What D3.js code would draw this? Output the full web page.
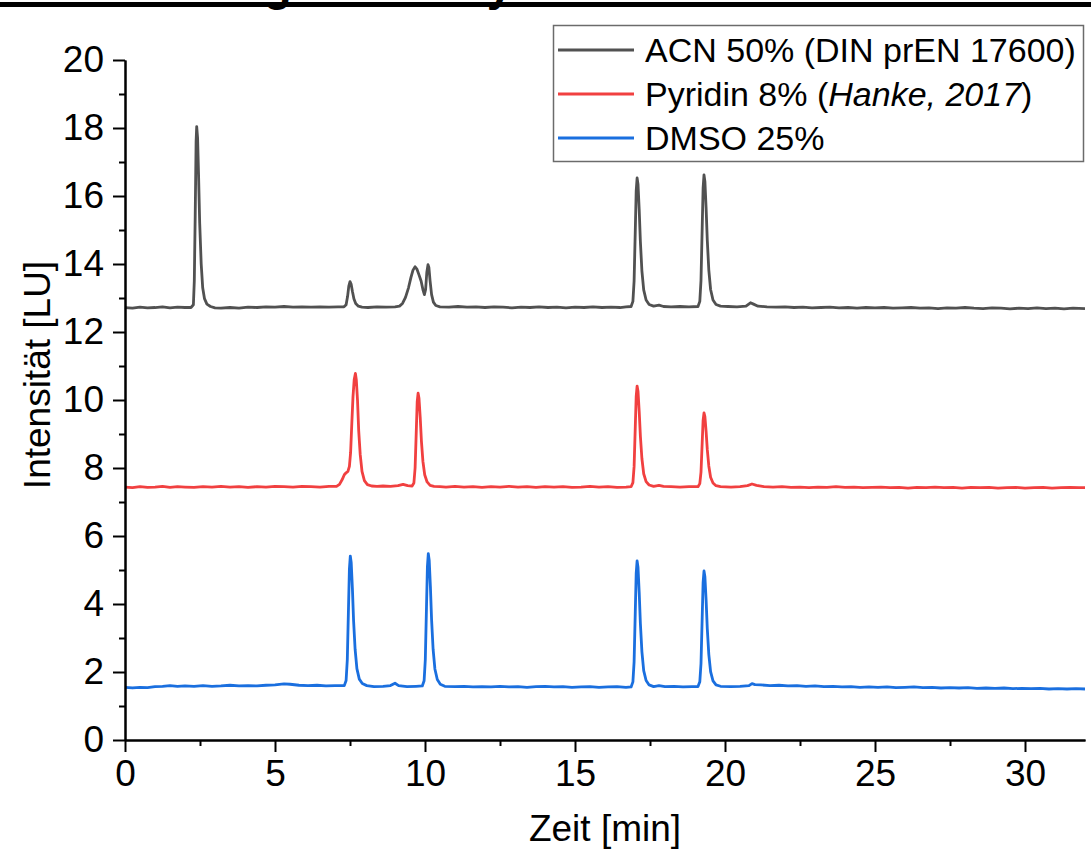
<!DOCTYPE html>
<html>
<head>
<meta charset="utf-8">
<script src="https://cdn.jsdelivr.net/npm/d3@7"></script>
<style>
  html, body { margin: 0; padding: 0; background: #fff; }
  svg { display: block; font-family: "Liberation Sans", Arial, sans-serif; }
</style>
</head>
<body>
<svg id="chart" width="1091" height="855"></svg>
<script>
// Retention time [min] / fluorescence intensity [LU] for each eluent
const acnSignal = [
  [0.00,12.72],[0.25,12.70],[0.50,12.73],[0.75,12.71],[1.00,12.72],[1.25,12.74],[1.50,12.71],[1.75,12.73],[2.00,12.72],[2.20,12.72],
  [2.28,12.80],[2.31,13.50],[2.34,15.40],[2.37,17.60],[2.39,18.04],[2.42,17.70],[2.45,16.70],[2.49,15.20],[2.54,14.00],[2.59,13.30],[2.65,12.98],[2.73,12.82],[2.85,12.75],[3.00,12.71],
  [3.20,12.70],[3.50,12.72],[3.80,12.70],[4.10,12.73],[4.40,12.72],[4.70,12.74],[5.00,12.73],[5.30,12.75],[5.60,12.73],[5.90,12.74],[6.20,12.73],[6.50,12.74],[6.80,12.73],[7.10,12.74],[7.30,12.74],
  [7.37,12.80],[7.42,13.05],[7.46,13.35],[7.50,13.48],[7.54,13.40],[7.58,13.20],[7.63,12.98],[7.69,12.84],[7.78,12.76],[7.90,12.73],
  [8.10,12.72],[8.40,12.74],[8.70,12.73],[9.00,12.74],[9.15,12.76],
  [9.25,12.84],[9.35,13.02],[9.45,13.30],[9.53,13.60],[9.60,13.82],[9.67,13.92],[9.73,13.85],[9.80,13.68],[9.87,13.50],[9.93,13.25],[9.98,13.10],
  [10.02,13.25],[10.06,13.75],[10.10,13.98],[10.13,13.90],[10.17,13.50],[10.22,13.10],[10.28,12.88],[10.36,12.78],[10.50,12.74],
  [10.80,12.73],[11.10,12.75],[11.40,12.73],[11.70,12.74],[12.00,12.72],[12.30,12.74],[12.60,12.73],[12.90,12.71],[13.20,12.73],[13.50,12.72],[13.80,12.74],[14.10,12.72],
  [14.40,12.73],[14.70,12.71],[15.00,12.73],[15.30,12.72],[15.60,12.74],[15.90,12.72],[16.20,12.73],[16.50,12.72],[16.70,12.74],[16.87,12.75],
  [16.93,12.90],[16.97,13.50],[17.01,15.00],[17.04,16.15],[17.07,16.53],[17.10,16.35],[17.14,15.60],[17.18,14.65],[17.23,13.80],[17.29,13.24],[17.37,12.94],[17.47,12.81],[17.62,12.76],
  [17.80,12.79],[17.95,12.75],[18.20,12.74],[18.50,12.75],[18.80,12.74],[19.10,12.75],
  [19.16,12.90],[19.20,13.52],[19.24,15.07],[19.27,16.23],[19.30,16.62],[19.33,16.43],[19.37,15.65],[19.41,14.69],[19.46,13.83],[19.52,13.25],[19.60,12.94],[19.70,12.81],[19.85,12.76],
  [20.10,12.75],[20.40,12.74],[20.70,12.76],[20.85,12.86],[20.95,12.82],[21.10,12.76],[21.40,12.74],[21.70,12.73],[22.00,12.74],[22.30,12.72],[22.60,12.73],[22.90,12.71],
  [23.20,12.72],[23.50,12.73],[23.80,12.71],[24.10,12.72],[24.40,12.70],[24.70,12.72],[25.00,12.71],[25.30,12.72],[25.60,12.70],[25.90,12.71],[26.20,12.72],[26.50,12.70],
  [26.80,12.71],[27.10,12.69],[27.40,12.71],[27.70,12.70],[28.00,12.72],[28.30,12.70],[28.60,12.69],[28.90,12.71],[29.20,12.70],[29.50,12.68],[29.80,12.70],[30.10,12.69],
  [30.40,12.71],[30.70,12.69],[31.00,12.70],[31.30,12.68],[31.60,12.70],[32.00,12.69]
];

const pyridinSignal = [
  [0.00,7.44],[0.25,7.42],[0.50,7.45],[0.75,7.43],[1.00,7.44],[1.25,7.46],[1.50,7.43],[1.75,7.45],[2.00,7.44],[2.30,7.43],[2.60,7.45],[2.90,7.44],[3.20,7.46],[3.50,7.44],
  [3.80,7.45],[4.10,7.43],[4.40,7.45],[4.70,7.44],[5.00,7.46],[5.30,7.45],[5.60,7.44],[5.90,7.46],[6.20,7.45],[6.50,7.44],[6.80,7.46],[7.05,7.46],
  [7.15,7.52],[7.24,7.66],[7.31,7.80],[7.37,7.86],[7.43,7.90],[7.48,8.05],[7.52,8.45],[7.56,9.30],[7.60,10.10],[7.64,10.60],[7.68,10.78],[7.71,10.60],[7.75,10.00],
  [7.79,9.10],[7.84,8.40],[7.90,7.90],[7.98,7.63],[8.08,7.51],[8.22,7.47],[8.40,7.46],[8.60,7.47],[8.85,7.46],[9.10,7.48],[9.27,7.52],[9.42,7.48],[9.57,7.47],
  [9.63,7.56],[9.67,8.00],[9.71,9.10],[9.74,9.95],[9.77,10.20],[9.80,10.05],[9.84,9.50],[9.88,8.80],[9.93,8.20],[9.99,7.80],[10.07,7.59],[10.17,7.49],[10.30,7.46],
  [10.50,7.45],[10.70,7.44],[11.00,7.46],[11.30,7.44],[11.60,7.45],[11.90,7.43],[12.20,7.45],[12.50,7.44],[12.80,7.46],[13.10,7.44],[13.40,7.45],[13.70,7.43],
  [14.00,7.45],[14.30,7.44],[14.60,7.45],[14.90,7.43],[15.20,7.44],[15.50,7.46],[15.80,7.44],[16.10,7.45],[16.40,7.43],[16.70,7.44],[16.87,7.45],
  [16.93,7.57],[16.97,8.04],[17.01,9.23],[17.04,10.11],[17.07,10.41],[17.10,10.26],[17.14,9.67],[17.18,8.93],[17.23,8.28],[17.29,7.83],[17.37,7.60],[17.47,7.50],[17.62,7.46],
  [17.80,7.49],[17.95,7.46],[18.20,7.45],[18.50,7.44],[18.80,7.45],[19.10,7.45],
  [19.16,7.54],[19.20,7.88],[19.24,8.75],[19.27,9.40],[19.30,9.62],[19.33,9.51],[19.37,9.08],[19.41,8.54],[19.46,8.06],[19.52,7.73],[19.60,7.56],[19.70,7.48],[19.85,7.45],
  [20.20,7.44],[20.50,7.45],[20.75,7.48],[20.90,7.53],[21.05,7.49],[21.30,7.45],[21.60,7.44],[21.90,7.45],[22.20,7.43],[22.50,7.44],[22.80,7.42],[23.10,7.44],
  [23.40,7.43],[23.70,7.45],[24.00,7.43],[24.30,7.44],[24.60,7.42],[24.90,7.43],[25.20,7.44],[25.50,7.42],[25.80,7.43],[26.10,7.41],[26.40,7.43],[26.70,7.42],
  [27.00,7.44],[27.30,7.42],[27.60,7.43],[27.90,7.41],[28.20,7.43],[28.50,7.42],[28.80,7.43],[29.10,7.41],[29.40,7.42],[29.70,7.43],[30.00,7.41],[30.30,7.42],
  [30.60,7.43],[30.90,7.41],[31.20,7.42],[31.50,7.43],[31.80,7.42],[32.00,7.42]
];

const dmsoSignal = [
  [0.00,1.55],[0.25,1.53],[0.50,1.55],[0.75,1.54],[1.00,1.57],[1.25,1.58],[1.50,1.60],[1.75,1.58],[2.00,1.59],[2.30,1.58],[2.60,1.60],[2.90,1.58],[3.20,1.59],
  [3.50,1.61],[3.80,1.59],[4.10,1.60],[4.40,1.59],[4.70,1.61],[5.00,1.62],[5.30,1.65],[5.50,1.64],[5.80,1.61],[6.10,1.60],[6.40,1.61],[6.70,1.59],[7.00,1.60],
  [7.31,1.60],
  [7.37,1.75],[7.41,2.36],[7.45,3.89],[7.48,5.03],[7.51,5.41],[7.54,5.22],[7.58,4.46],[7.62,3.50],[7.67,2.67],[7.73,2.10],[7.81,1.79],[7.91,1.66],[8.06,1.60],
  [8.30,1.57],[8.60,1.58],[8.85,1.60],[9.00,1.67],[9.12,1.60],[9.40,1.57],[9.70,1.58],[9.91,1.59],
  [9.97,1.74],[10.01,2.36],[10.05,3.92],[10.08,5.09],[10.11,5.48],[10.14,5.29],[10.18,4.51],[10.22,3.53],[10.27,2.67],[10.33,2.09],[10.41,1.78],[10.51,1.64],[10.66,1.58],
  [11.00,1.57],[11.30,1.58],[11.60,1.56],[11.90,1.57],[12.20,1.56],[12.50,1.58],[12.80,1.56],[13.10,1.57],[13.40,1.55],[13.70,1.57],[14.00,1.58],[14.30,1.56],
  [14.60,1.57],[14.90,1.55],[15.20,1.56],[15.50,1.57],[15.80,1.55],[16.10,1.56],[16.40,1.57],[16.70,1.55],[16.87,1.56],
  [16.93,1.71],[16.97,2.30],[17.01,3.79],[17.04,4.90],[17.07,5.27],[17.10,5.08],[17.14,4.34],[17.18,3.42],[17.23,2.60],[17.29,2.04],[17.37,1.75],[17.47,1.62],[17.62,1.57],
  [17.80,1.60],[18.00,1.57],[18.30,1.58],[18.60,1.56],[18.90,1.57],[19.10,1.57],
  [19.16,1.71],[19.20,2.25],[19.24,3.61],[19.27,4.63],[19.30,4.97],[19.33,4.80],[19.37,4.12],[19.41,3.27],[19.46,2.52],[19.52,2.01],[19.60,1.74],[19.70,1.62],[19.85,1.58],
  [20.20,1.57],[20.50,1.58],[20.80,1.60],[20.90,1.66],[21.00,1.63],[21.20,1.62],[21.50,1.60],[21.80,1.61],[22.10,1.59],[22.40,1.60],[22.70,1.58],[23.00,1.59],
  [23.30,1.57],[23.60,1.58],[23.90,1.56],[24.20,1.57],[24.50,1.55],[24.80,1.56],[25.10,1.55],[25.40,1.56],[25.70,1.54],[26.00,1.55],[26.30,1.56],[26.60,1.54],
  [26.90,1.55],[27.20,1.53],[27.50,1.54],[27.80,1.53],[28.10,1.54],[28.40,1.52],[28.70,1.53],[29.00,1.52],[29.30,1.53],[29.60,1.51],[29.90,1.52],[30.20,1.51],
  [30.50,1.52],[30.80,1.50],[31.10,1.51],[31.40,1.50],[31.70,1.51],[32.00,1.50]
];

const seriesNames = ["ACN 50% (DIN prEN 17600)", "Pyridin 8% (Hanke, 2017)", "DMSO 25%"];
const seriesColors = ["#515151", "#F14040", "#1A6FDF"];

const xMajorTicks = [0, 5, 10, 15, 20, 25, 30];
const xMinorTicks = [2.5, 7.5, 12.5, 17.5, 22.5, 27.5];
const yMajorTicks = [0, 2, 4, 6, 8, 10, 12, 14, 16, 18, 20];
const yMinorTicks = [1, 3, 5, 7, 9, 11, 13, 15, 17, 19];

const xLabel = "Zeit [min]";
const yLabel = "Intensität [LU]";
const headingText = "Trennung der Analyten";

// ---- layout ----
const svg = d3.select("#chart");
const W = 1091, H = 855;
const plot = { left: 125, right: 1085, top: 60, bottom: 740 };

const x = d3.scaleLinear().domain([0, 32]).range([plot.left, plot.right]);
const y = d3.scaleLinear().domain([0, 20]).range([plot.bottom, plot.top]);

const tickFont = 37;
const titleFont = 37;
const legendFont = 34;

// heading of the surrounding page, cut off at the top edge, with its rule
svg.append("text")
  .attr("x", 82).attr("y", 0)
  .attr("font-size", 46).attr("font-weight", "bold").attr("fill", "#000")
  .text(headingText);
svg.append("rect")
  .attr("x", 0).attr("y", 2).attr("width", W).attr("height", 5)
  .attr("fill", "#000");

// ---- traces ----
const line = d3.line().x(d => x(d[0])).y(d => y(d[1]));
const allSeries = [acnSignal, pyridinSignal, dmsoSignal];
svg.append("g").selectAll("path")
  .data(allSeries)
  .join("path")
  .attr("d", line)
  .attr("fill", "none")
  .attr("stroke", (d, i) => seriesColors[i])
  .attr("stroke-width", 2.8)
  .attr("stroke-linejoin", "round");

// ---- axes ----
function styleAxis(g) {
  g.selectAll("path.domain").attr("stroke", "#000").attr("stroke-width", 2);
  g.selectAll(".tick line").attr("stroke", "#000").attr("stroke-width", 2);
  g.selectAll(".tick text")
    .attr("font-family", "'Liberation Sans', Arial, sans-serif")
    .attr("font-size", tickFont).attr("fill", "#000");
}

// x minor ticks
svg.append("g")
  .attr("transform", `translate(0,${plot.bottom})`)
  .call(d3.axisBottom(x).tickValues(xMinorTicks).tickSize(6).tickSizeOuter(0).tickFormat(""))
  .call(styleAxis);
// x major ticks
svg.append("g")
  .attr("transform", `translate(0,${plot.bottom})`)
  .call(d3.axisBottom(x).tickValues(xMajorTicks).tickSize(12).tickSizeOuter(0).tickPadding(8).tickFormat(d3.format("d")))
  .call(styleAxis);

// y minor ticks
svg.append("g")
  .attr("transform", `translate(${plot.left},0)`)
  .call(d3.axisLeft(y).tickValues(yMinorTicks).tickSize(6).tickSizeOuter(0).tickFormat(""))
  .call(styleAxis);
// y major ticks
svg.append("g")
  .attr("transform", `translate(${plot.left},0)`)
  .call(d3.axisLeft(y).tickValues(yMajorTicks).tickSize(12).tickSizeOuter(0).tickPadding(9).tickFormat(d3.format("d")))
  .call(styleAxis);

// axis titles
svg.append("text")
  .attr("x", (plot.left + plot.right) / 2).attr("y", 841)
  .attr("text-anchor", "middle").attr("font-size", titleFont).attr("fill", "#000")
  .text(xLabel);
svg.append("text")
  .attr("transform", `translate(50,375) rotate(-90)`)
  .attr("text-anchor", "middle").attr("font-size", titleFont).attr("fill", "#000")
  .text(yLabel);

// ---- legend ----
const legend = svg.append("g");
legend.append("rect")
  .attr("x", 553.5).attr("y", 25.5).attr("width", 530).attr("height", 136)
  .attr("fill", "#fff").attr("stroke", "#6b6b6b").attr("stroke-width", 1.5);

const rowY = [50, 94, 138];
seriesNames.forEach((name, i) => {
  legend.append("line")
    .attr("x1", 558).attr("x2", 634).attr("y1", rowY[i]).attr("y2", rowY[i])
    .attr("stroke", seriesColors[i]).attr("stroke-width", 2.8);
  const t = legend.append("text")
    .attr("x", 645).attr("y", rowY[i]).attr("dy", "0.36em")
    .attr("font-size", legendFont).attr("fill", "#000");
  if (i === 1) {
    t.append("tspan").text("Pyridin 8% (");
    t.append("tspan").attr("font-style", "italic").text("Hanke, 2017");
    t.append("tspan").text(")");
  } else {
    t.text(name);
  }
});
</script>
</body>
</html>
